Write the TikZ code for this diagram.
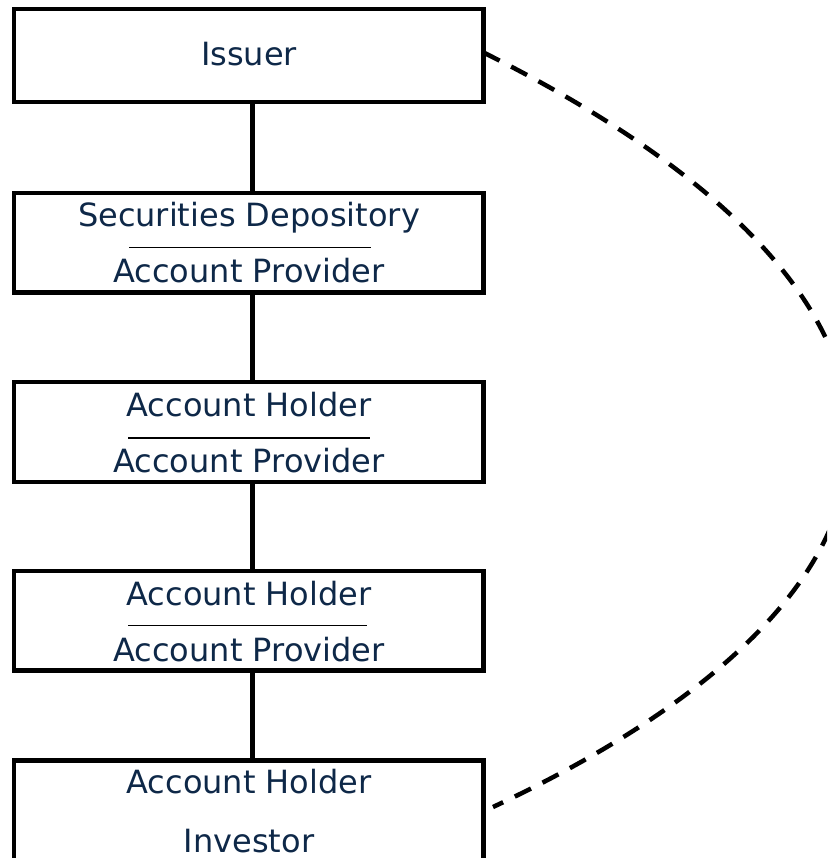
\documentclass[tikz,border=0pt]{standalone}
\usepackage{fontspec}
\setmainfont{DejaVu Sans}
\definecolor{navy}{HTML}{0E2848}
\begin{document}
\begin{tikzpicture}[x=1pt,y=-1pt,
  box/.style={draw=black,line width=4.5pt,minimum width=469.5pt,minimum height=100pt,inner sep=0pt,outer sep=0pt},
  lbl/.style={text=navy,font=\fontsize{32}{38}\selectfont,anchor=base,inner sep=0pt},
  link/.style={line width=4.5pt},
  sepline/.style={line width=1.8pt},
  refline/.style={line width=4.5pt,dash pattern=on 18pt off 13pt}]
\useasboundingbox (0,0) rectangle (827,858);
\clip (0,0) rectangle (827,858);
% boxes
\node[box,minimum height=93pt] (b1) at (248.75,55.5) {};
\node[box,minimum height=99.5pt] (b2) at (248.75,242.75) {};
\node[box] (b3) at (248.75,432) {};
\node[box,minimum height=99.5pt] (b4) at (248.75,620.5) {};
\node[box] (b5) at (248.75,810.5) {};
% connectors
\draw[link] ([xshift=3.75pt]b1.south) -- ([xshift=3.75pt]b2.north);
\draw[link] ([xshift=3.75pt]b2.south) -- ([xshift=3.75pt]b3.north);
\draw[link] ([xshift=3.75pt]b3.south) -- ([xshift=3.75pt]b4.north);
\draw[link] ([xshift=3.75pt]b4.south) -- ([xshift=3.75pt]b5.north);
% labels
\node[lbl] (t1) at (249,66) {Issuer};
\node[lbl] (t2a) at (249,227) {Securities Depository};
\node[lbl] (t2b) at (249,283) {Account Provider};
\node[lbl] (t3a) at (249,416) {Account Holder};
\node[lbl] (t3b) at (249,472) {Account Provider};
\node[lbl] (t4a) at (249,605) {Account Holder};
\node[lbl] (t4b) at (249,661) {Account Provider};
\node[lbl] (t5a) at (249,793) {Account Holder};
\node[lbl] (t5b) at (249,852) {Investor};
% separators
\coordinate (s2l) at (129,247.5); \coordinate (s2r) at (371,247.5);
\coordinate (s3l) at (128,438); \coordinate (s3r) at (370,438);
\coordinate (s4l) at (128,625.5); \coordinate (s4r) at (367,625.5);
\draw[sepline] (s2l) -- (s2r);
\draw[sepline] (s3l) -- (s3r);
\draw[sepline] (s4l) -- (s4r);
% dashed relation issuer - investor
\draw[refline] ([yshift=3pt]b1.east) .. controls (970,295) and (970,583) .. ([shift={(9.5pt,3.5pt)}]b5.east);
\end{tikzpicture}
\end{document}
